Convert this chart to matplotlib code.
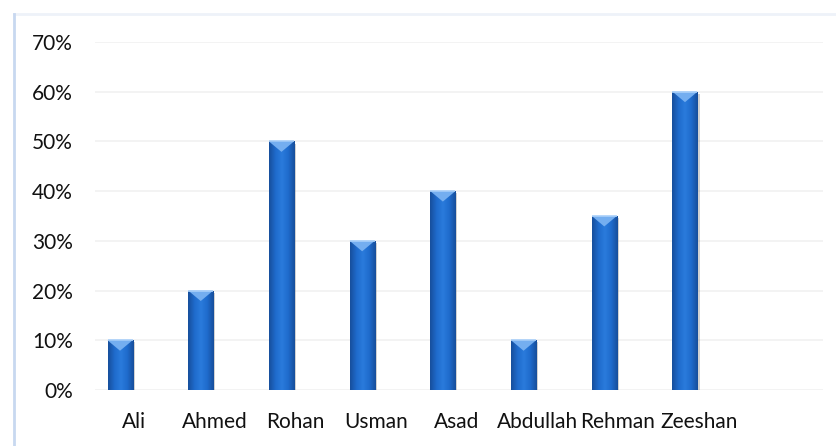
import numpy as np
import matplotlib
matplotlib.use('Agg')
import matplotlib.pyplot as plt
import matplotlib.patheffects as pe
from matplotlib.colors import LinearSegmentedColormap
from matplotlib.patches import Polygon
from matplotlib.lines import Line2D

# data
names = ['Ali', 'Ahmed', 'Rohan', 'Usman', 'Asad', 'Abdullah', 'Rehman', 'Zeeshan']
scores = [0.10, 0.20, 0.50, 0.30, 0.40, 0.10, 0.35, 0.60]
yticks = [0.0, 0.1, 0.2, 0.3, 0.4, 0.5, 0.6, 0.7]

plt.rcParams['font.family'] = ['Lato', 'DejaVu Sans']

fig = plt.figure(figsize=(8.36, 4.46), dpi=100)
fig.patch.set_facecolor('white')
ax = fig.add_axes([95 / 836, 56 / 446, 728 / 836, 348 / 446])

x = np.arange(len(names))
width = 0.31
shadow = [pe.SimplePatchShadow(offset=(1.5, -1.5), shadow_rgbFace='#808080', alpha=0.35), pe.Normal()]
bars = ax.bar(x, scores, width, color='#1b63bf', edgecolor='#15509c', linewidth=0.6,
              zorder=2, path_effects=shadow)

# bevelled look: horizontal gradient + light triangle on top
cmap = LinearSegmentedColormap.from_list('bev', ['#174f9c', '#1f6bcc', '#2a7bdc', '#1f6bcc', '#174f9c'])
grad = np.linspace(0, 1, 64).reshape(1, -1)
bevel = 0.021
for b in bars:
    x0, w, h = b.get_x(), b.get_width(), b.get_height()
    im = ax.imshow(grad, cmap=cmap, extent=(x0, x0 + w, 0, h), aspect='auto', zorder=3)
    im.set_clip_path(b)
    tri = Polygon([(x0, h), (x0 + w, h), (x0 + w / 2, h - bevel)], closed=True,
                  facecolor='#74aef0', edgecolor='none', zorder=4)
    ax.add_patch(tri)
    ax.plot([x0, x0 + w], [h, h], color='#a9d0fa', lw=1.2, zorder=5, solid_capstyle='butt')

ax.set_xlim(-0.31, 8.71)
ax.set_ylim(0, 0.7)
ax.set_yticks(yticks)
ax.set_yticklabels(['{:.0f}%'.format(v * 100) for v in yticks])
ax.set_xticks(x + 0.17)
ax.set_xticklabels(names)
ax.yaxis.grid(True, color='#f2f2f2', linewidth=1.3)
ax.set_axisbelow(True)
for s in ax.spines.values():
    s.set_visible(False)
ax.tick_params(axis='y', length=0, pad=16, labelsize=15, labelcolor='#111111')
ax.tick_params(axis='x', length=0, pad=16, labelsize=15, labelcolor='#111111')

# chart area border (only top/left visible)
fig.add_artist(Line2D([14 / 836, 1.0], [1 - 14 / 446, 1 - 14 / 446], transform=fig.transFigure,
                      color='#eef2f9', lw=2))
fig.add_artist(Line2D([14 / 836, 14 / 836], [0.0, 1 - 14 / 446], transform=fig.transFigure,
                      color='#c8d8f0', lw=2))

fig.savefig('out.png', dpi=100)
